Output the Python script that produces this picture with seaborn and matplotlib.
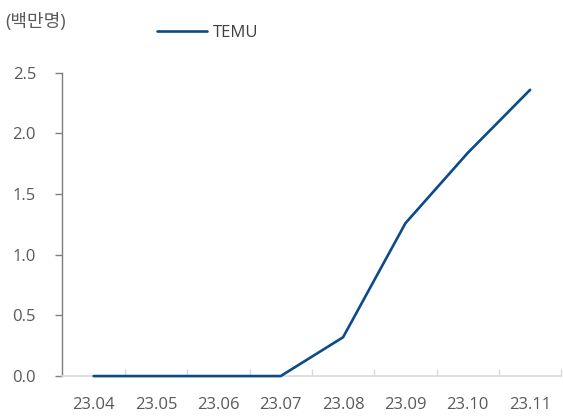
import matplotlib
matplotlib.use("Agg")
import matplotlib.pyplot as plt
import seaborn as sns
import pandas as pd
from matplotlib.lines import Line2D
from matplotlib.ticker import FixedLocator

months = ["23.04", "23.05", "23.06", "23.07", "23.08", "23.09", "23.10", "23.11"]
temu = [0.0, 0.0, 0.0, 0.0, 0.32, 1.26, 1.84, 2.36]
yticks = [0.0, 0.5, 1.0, 1.5, 2.0, 2.5]

sns.set_style("white")
plt.rcParams['font.family'] = ['Open Sans', 'Noto Sans CJK KR', 'DejaVu Sans']

df = pd.DataFrame({"month": months, "value": temu, "x": range(len(months))})

fig = plt.figure(figsize=(5.63, 4.16), dpi=100)
ax = fig.add_axes([0.111, 0.096, 0.886, 0.729])
sns.lineplot(data=df, x="x", y="value", ax=ax, color="#0b4a8b", linewidth=1.9,
             legend=False, zorder=5, clip_on=False)

txt = "#595959"
fs = 12
ax.set_xlim(-0.5, len(months) - 0.5)
ax.set_ylim(0, 2.5)
ax.set_yticks(yticks)
ax.set_yticklabels([f"{v:.1f}" for v in yticks], color=txt, fontsize=fs)
ax.set_xticks(range(len(months)))
ax.set_xticklabels(months, color=txt, fontsize=fs)
ax.xaxis.set_minor_locator(FixedLocator([i + 0.5 for i in range(len(months))]))
ax.tick_params(axis="x", which="major", length=0, pad=15, bottom=True)
ax.tick_params(axis="x", which="minor", direction="in", length=5, color="#d9d9d9", width=1, bottom=True)
ax.tick_params(axis="y", direction="out", length=5, color="#7f7f7f", width=1, pad=14, left=True)
ax.set_xlabel("")
ax.set_ylabel("")

for s in ["top", "right"]:
    ax.spines[s].set_visible(False)
ax.spines["left"].set_color("#7f7f7f")
ax.spines["left"].set_linewidth(1)
ax.spines["bottom"].set_color("#d9d9d9")
ax.spines["bottom"].set_linewidth(1.2)

fig.text(5 / 563, 1 - 22 / 416, "(백만명)", color=txt, fontsize=13, va="center", ha="left")
handle = Line2D([], [], color="#0b4a8b", linewidth=1.9)
fig.legend([handle], ["TEMU"], loc="center left", bbox_to_anchor=(142 / 563, 1 - 33 / 416),
           frameon=False, fontsize=fs, handlelength=3.0, handletextpad=0.35, labelcolor="#404040")

fig.savefig("out.png", dpi=100)
